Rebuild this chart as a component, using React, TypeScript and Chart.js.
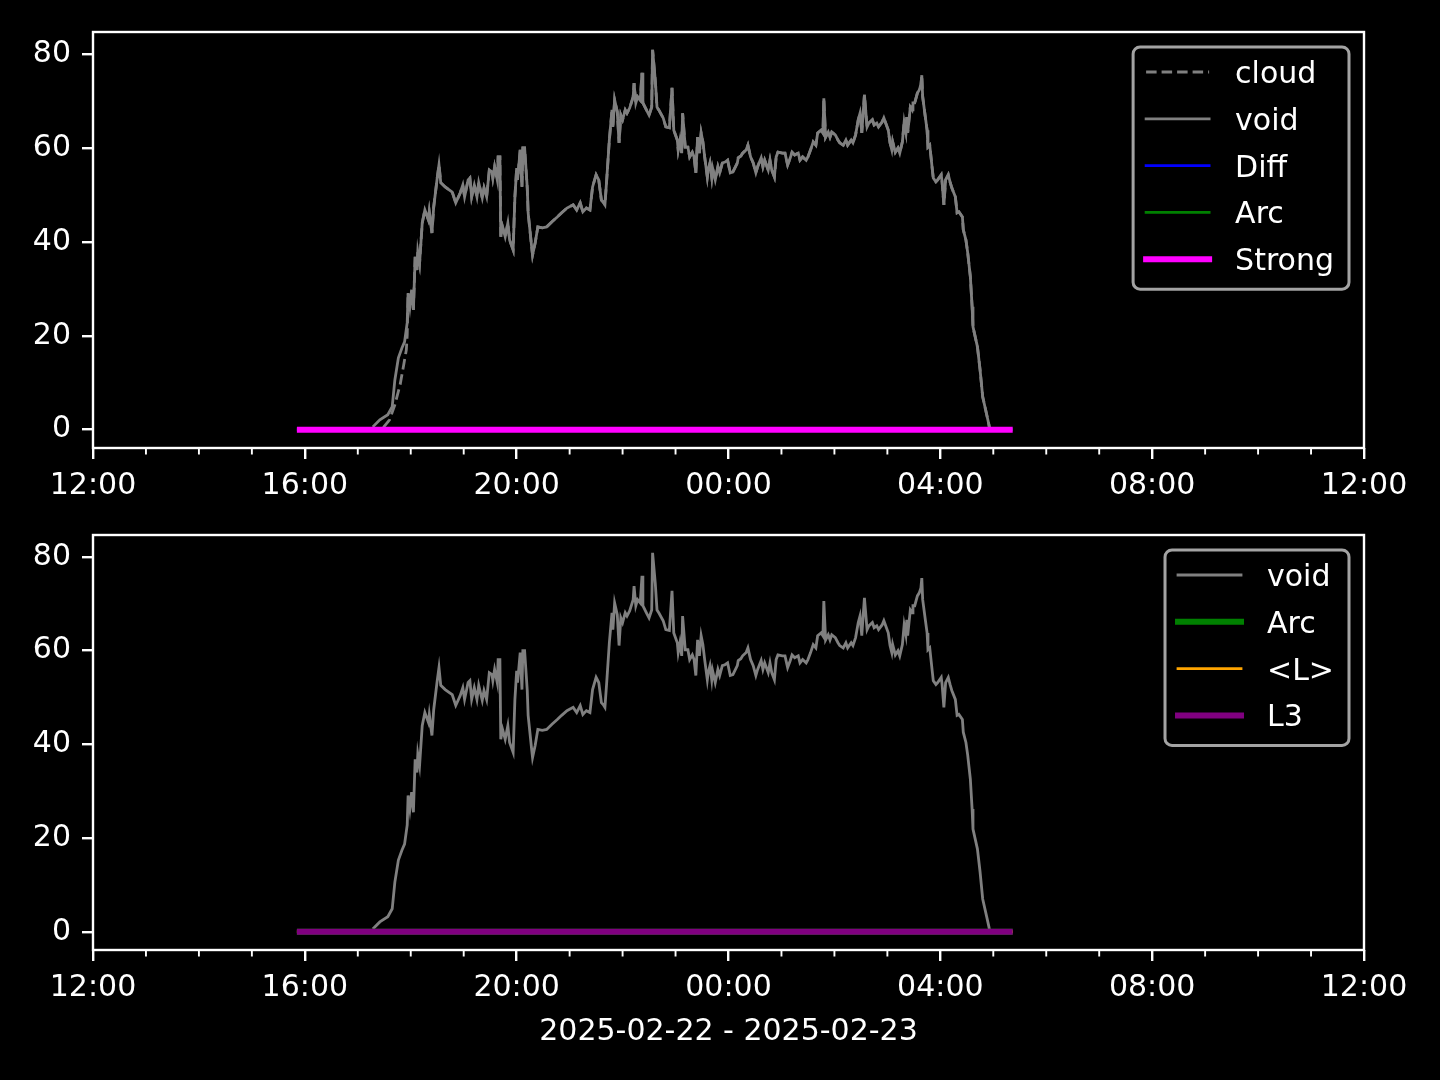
import React, { useEffect, useRef } from 'react';
import { Chart, registerables } from 'chart.js';

Chart.register(...registerables);

const FONT = '"DejaVu Sans", "Liberation Sans", sans-serif';

// x values: minutes after 2025-02-22 12:00
const xTickLabels = ['12:00', '16:00', '20:00', '00:00', '04:00', '08:00', '12:00'];
const xMinorTickHours = [1, 2, 3, 5, 6, 7, 9, 10, 11, 13, 14, 15, 17, 18, 19, 21, 22, 23];
const yTickValues = [0, 20, 40, 60, 80];
const xLabel = '2025-02-22 - 2025-02-23';

const voidTimes = [
  317, 325, 334, 339, 342, 346, 350, 353, 356, 357, 359, 361, 363, 365, 367, 368, 370, 373, 376, 380,
  381, 384, 386, 390, 392, 394, 399, 407, 411, 416, 419, 421, 425, 427, 429, 432, 435, 437, 441, 443,
  446, 449, 452, 453, 455, 458, 459, 461, 462, 464, 467, 470, 472, 476, 478, 480, 481, 484, 486, 487,
  489, 492, 493, 497, 498, 501, 504, 509, 514, 520, 526, 531, 537, 544, 548, 552, 555, 559, 563, 566,
  570, 573, 576, 578, 580, 582, 585, 588, 589, 591, 594, 596, 598, 600, 603, 605, 608, 612, 613, 615,
  617, 620, 622, 623, 627, 630, 633, 634, 637, 639, 641, 646, 649, 653, 656, 658, 662, 663, 665, 667,
  668, 671, 674, 676, 679, 681, 683, 685, 687, 689, 691, 693, 696, 697, 699, 701, 702, 705, 708, 710,
  713, 716, 719, 722, 725, 730, 731, 734, 736, 740, 742, 745, 748, 751, 753, 757, 759, 761, 765, 767,
  769, 772, 774, 776, 781, 784, 787, 790, 792, 795, 799, 801, 804, 808, 810, 813, 816, 819, 821, 825,
  827, 828, 830, 833, 835, 837, 841, 844, 846, 850, 853, 855, 859, 861, 864, 867, 869, 871, 874, 877,
  879, 883, 885, 888, 890, 894, 896, 901, 903, 905, 906, 909, 912, 914, 917, 919, 921, 922, 923, 926,
  928, 929, 931, 934, 936, 938, 939, 940, 943, 945, 946, 948, 951, 952, 955, 957, 961, 962, 964, 966,
  969, 971, 973, 977, 979, 981, 985, 986, 989, 991, 994, 996, 997, 1002, 1005, 1008, 1013, 1015, 1016,
];
const voidValues = [
  0.6, 2.1, 3.2, 4.9, 10.6, 15.3, 17.4, 18.7, 22.8, 29.1, 26.2, 29.8, 25.5, 36.8, 34.0, 37.9, 35.5, 44.0, 46.8, 44.7,
  46.4, 41.9, 47.4, 53.6, 56.4, 52.6, 51.7, 50.6, 48.3, 50.4, 52.1, 49.6, 53.2, 53.6, 49.6, 52.1, 49.6, 52.6, 49.4, 51.5,
  49.6, 55.3, 54.9, 53.6, 56.0, 53.2, 58.1, 58.1, 41.1, 43.2, 41.1, 44.0, 40.4, 38.3, 49.6, 55.7, 53.2, 59.6, 51.7, 60.0,
  60.0, 51.5, 46.2, 38.9, 37.2, 39.8, 43.2, 43.0, 43.2, 44.3, 45.3, 46.2, 47.2, 47.9, 46.8, 48.3, 46.4, 47.2, 46.8, 51.7,
  54.3, 53.2, 48.9, 48.5, 47.9, 53.2, 61.7, 68.1, 64.5, 70.2, 67.7, 61.1, 67.0, 66.0, 68.1, 67.4, 68.5, 70.9, 73.8, 69.6,
  70.9, 70.2, 76.0, 69.6, 68.1, 67.0, 68.7, 80.9, 74.5, 68.7, 68.1, 66.4, 64.5, 64.3, 72.8, 63.8, 61.7, 59.6, 61.7, 58.9,
  67.4, 60.2, 60.2, 58.1, 59.1, 58.1, 54.7, 62.3, 58.9, 63.2, 61.3, 58.1, 53.8, 55.3, 56.8, 53.8, 55.7, 53.2, 56.0, 54.7,
  56.8, 57.0, 57.4, 54.7, 54.9, 56.8, 57.9, 58.3, 58.9, 59.6, 60.6, 58.1, 56.8, 54.7, 56.0, 57.9, 56.0, 57.4, 55.3, 57.4,
  55.3, 53.8, 58.1, 59.1, 58.9, 58.9, 56.4, 57.9, 59.1, 58.5, 58.9, 57.4, 58.1, 57.4, 58.1, 59.6, 61.3, 60.6, 63.2, 63.8,
  63.2, 70.6, 62.3, 63.4, 62.3, 63.4, 62.8, 61.7, 61.1, 60.6, 61.7, 60.6, 61.7, 61.1, 62.8, 66.0, 67.4, 63.2, 71.3, 64.5,
  65.3, 66.0, 64.9, 65.3, 64.5, 65.5, 66.4, 63.8, 61.1, 59.6, 61.3, 59.1, 60.0, 58.9, 61.3, 65.5, 63.4, 66.6, 63.2, 68.7,
  68.1, 69.6, 69.6, 71.7, 72.3, 73.4, 75.5, 70.9, 66.6, 63.8, 60.2, 60.6, 55.3, 53.6, 52.8, 53.2, 54.3, 52.8, 47.9, 53.2,
  54.3, 52.8, 51.5, 49.6, 46.2, 46.4, 45.3, 42.6, 40.4, 37.7, 32.6, 26.2, 21.9, 17.7, 12.8, 7.0, 2.8, 1.1, 0.0,
];

// "cloud" lags "void" during the rise, then coincides with it from 357 min on
const cloudRiseTimes = [329, 336, 342, 348, 352, 355, 356];
const cloudRiseValues = [0.5, 2.1, 5.3, 9.6, 13.8, 17.0, 20.2];
const cloudJoinTime = 357;

const flatTimes = [231, 1042];
const strongValues = [0, 0];
const diffValues = [0, 0];
const arcValues = [0, 0];
const meanLValues = [0, 0];
const l3Values = [0, 0];

const pts = (xs: number[], ys: number[]) => xs.map((x, i) => ({ x, y: ys[i] }));

const cloudPoints = [
  ...pts(cloudRiseTimes, cloudRiseValues),
  ...pts(voidTimes, voidValues).filter((p) => p.x >= cloudJoinTime),
];

const GRAY = '#808080';
const THIN = 2.8;
const THICK = 6;

const legendPlugin = {
  id: 'mplLegend',
  afterDraw(chart: any) {
    const ctx = chart.ctx;
    const ca = chart.chartArea;
    const items = chart.data.datasets;
    ctx.save();
    ctx.font = `30px ${FONT}`;
    const maxW = Math.max(...items.map((d: any) => ctx.measureText(d.label).width));
    const rowH = 46.8;
    const w = 13 + 63 + 26 + maxW + 15;
    const h = 25.5 + (items.length - 1) * rowH + 29.5;
    const right = ca.right - 15;
    const top = ca.top + 15;
    const left = right - w;
    ctx.beginPath();
    ctx.roundRect(left, top, w, h, 7);
    ctx.fillStyle = 'rgba(0,0,0,0.8)';
    ctx.fill();
    ctx.lineWidth = 3;
    ctx.strokeStyle = '#a3a3a3';
    ctx.stroke();
    items.forEach((d: any, i: number) => {
      const cy = top + 25 + i * rowH;
      ctx.beginPath();
      const dash = d.borderDash || [];
      ctx.setLineDash(dash);
      ctx.lineCap = dash.length ? 'butt' : 'square';
      ctx.lineWidth = d.borderWidth;
      ctx.strokeStyle = d.borderColor;
      ctx.moveTo(left + 13, cy);
      ctx.lineTo(left + 76, cy);
      ctx.stroke();
      ctx.setLineDash([]);
      ctx.fillStyle = '#ffffff';
      ctx.textAlign = 'left';
      ctx.textBaseline = 'alphabetic';
      ctx.fillText(d.label, left + 102, cy + 11);
    });
    ctx.restore();
  },
};

const framePlugin = {
  id: 'mplFrame',
  afterDraw(chart: any) {
    const ctx = chart.ctx;
    const ca = chart.chartArea;
    const x = chart.scales.x;
    ctx.save();
    ctx.strokeStyle = '#ffffff';
    ctx.lineWidth = 2.4;
    ctx.strokeRect(ca.left, ca.top, ca.right - ca.left, ca.bottom - ca.top);
    ctx.lineWidth = 1.9;
    xMinorTickHours.forEach((hr) => {
      const px = x.getPixelForValue(hr * 60);
      ctx.beginPath();
      ctx.moveTo(px, ca.bottom);
      ctx.lineTo(px, ca.bottom + 6.5);
      ctx.stroke();
    });
    ctx.restore();
  },
};

function makeOptions(padTop: number, axisHeight: number, withTitle: boolean): any {
  return {
    responsive: false,
    animation: false,
    events: [],
    layout: { padding: { top: padTop, left: 0, right: 76, bottom: 0 } },
    plugins: { legend: { display: false }, tooltip: { enabled: false } },
    elements: { point: { radius: 0 }, line: { tension: 0 } },
    scales: {
      x: {
        type: 'linear',
        min: 0,
        max: 1440,
        afterFit: (s: any) => {
          s.height = axisHeight;
        },
        border: { display: false },
        grid: { drawOnChartArea: false, drawTicks: true, tickLength: 11, color: '#ffffff', lineWidth: 2.4 },
        ticks: {
          stepSize: 240,
          autoSkip: false,
          maxRotation: 0,
          padding: 9,
          color: '#ffffff',
          font: { family: FONT, size: 30 },
          callback: (_v: any, i: number) => xTickLabels[i],
        },
        title: {
          display: withTitle,
          text: xLabel,
          color: '#ffffff',
          font: { family: FONT, size: 30 },
          padding: { top: 0, bottom: 30 },
        },
      },
      y: {
        type: 'linear',
        min: -3.9,
        max: 84.7,
        afterFit: (s: any) => {
          s.width = 93;
        },
        afterBuildTicks: (s: any) => {
          s.ticks = yTickValues.map((v) => ({ value: v }));
        },
        border: { display: false },
        grid: { drawOnChartArea: false, drawTicks: true, tickLength: 11, color: '#ffffff', lineWidth: 2.4 },
        ticks: {
          padding: 11,
          color: '#ffffff',
          font: { family: FONT, size: 30 },
          callback: (v: any) => String(v),
        },
      },
    },
  };
}

function withOrder(ds: any[]) {
  return ds.map((d, i) => ({ ...d, order: ds.length - 1 - i, pointRadius: 0, fill: false }));
}

export default function App() {
  const topRef = useRef<HTMLCanvasElement>(null);
  const botRef = useRef<HTMLCanvasElement>(null);

  useEffect(() => {
    const topChart = new Chart(topRef.current as HTMLCanvasElement, {
      type: 'line',
      data: {
        datasets: withOrder([
          { label: 'cloud', data: cloudPoints, borderColor: GRAY, borderWidth: THIN, borderDash: [10.5, 5] },
          { label: 'void', data: pts(voidTimes, voidValues), borderColor: GRAY, borderWidth: THIN },
          { label: 'Diff', data: pts(flatTimes, diffValues), borderColor: '#0000ff', borderWidth: THIN },
          { label: 'Arc', data: pts(flatTimes, arcValues), borderColor: '#008000', borderWidth: THIN },
          { label: 'Strong', data: pts(flatTimes, strongValues), borderColor: '#ff00ff', borderWidth: THICK },
        ]),
      },
      options: makeOptions(32, 52, false),
      plugins: [framePlugin, legendPlugin],
    } as any);

    const botChart = new Chart(botRef.current as HTMLCanvasElement, {
      type: 'line',
      data: {
        datasets: withOrder([
          { label: 'void', data: pts(voidTimes, voidValues), borderColor: GRAY, borderWidth: THIN },
          { label: 'Arc', data: pts(flatTimes, arcValues), borderColor: '#008000', borderWidth: THICK },
          { label: '<L>', data: pts(flatTimes, meanLValues), borderColor: '#ffa500', borderWidth: THIN },
          { label: 'L3', data: pts(flatTimes, l3Values), borderColor: '#800080', borderWidth: THICK },
        ]),
      },
      options: makeOptions(35, 130, true),
      plugins: [framePlugin, legendPlugin],
    } as any);

    return () => {
      topChart.destroy();
      botChart.destroy();
    };
  }, []);

  return (
    <div style={{ position: 'fixed', left: 0, top: 0, width: 1440, height: 1080, background: '#000000' }}>
      <canvas
        ref={topRef}
        width={1440}
        height={500}
        style={{ position: 'absolute', left: 0, top: 0, width: 1440, height: 500 }}
      />
      <canvas
        ref={botRef}
        width={1440}
        height={580}
        style={{ position: 'absolute', left: 0, top: 500, width: 1440, height: 580 }}
      />
    </div>
  );
}
